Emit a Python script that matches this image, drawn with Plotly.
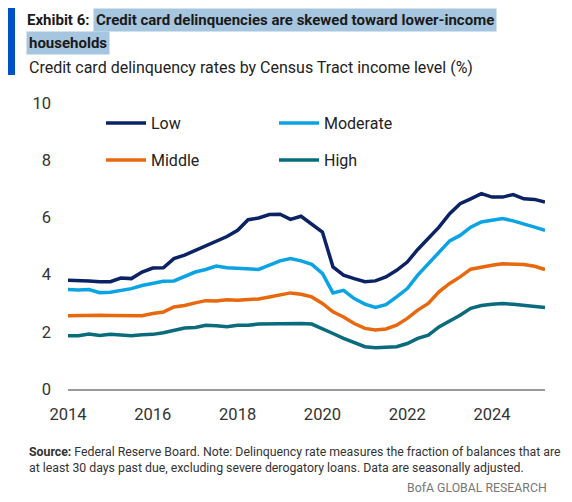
import pandas as pd
import plotly.graph_objects as go

# 季度数据 2014Q1 - 2025Q2
quarters = pd.date_range("2014-01-01", "2025-04-01", freq="QS")

low = [3.80, 3.80, 3.78, 3.75, 3.75, 3.88, 3.86, 4.09, 4.23, 4.24,
       4.56, 4.68, 4.85, 5.02, 5.16, 5.33, 5.55, 5.92, 5.98, 6.10,
       6.11, 5.93, 6.04, 5.78, 5.49, 4.27, 3.98, 3.86, 3.75, 3.78,
       3.92, 4.15, 4.44, 4.88, 5.26, 5.66, 6.13, 6.48, 6.65, 6.83,
       6.71, 6.71, 6.80, 6.65, 6.63, 6.54]
moderate = [3.48, 3.46, 3.48, 3.37, 3.38, 3.43, 3.51, 3.62, 3.71, 3.77,
            3.78, 3.94, 4.09, 4.18, 4.30, 4.24, 4.21, 4.19, 4.18, 4.33,
            4.48, 4.56, 4.48, 4.36, 4.04, 3.36, 3.45, 3.16, 2.97, 2.85,
            2.95, 3.22, 3.51, 3.98, 4.38, 4.79, 5.18, 5.37, 5.66, 5.84,
            5.90, 5.96, 5.88, 5.78, 5.66, 5.55]
middle = [2.56, 2.57, 2.59, 2.58, 2.57, 2.56, 2.54, 2.56, 2.64, 2.69,
          2.87, 2.92, 3.01, 3.09, 3.08, 3.12, 3.10, 3.13, 3.15, 3.22,
          3.30, 3.36, 3.31, 3.22, 2.99, 2.70, 2.52, 2.29, 2.12, 2.06,
          2.10, 2.23, 2.47, 2.76, 2.99, 3.40, 3.69, 3.92, 4.19, 4.27,
          4.33, 4.38, 4.38, 4.35, 4.29, 4.18]
high = [1.86, 1.86, 1.92, 1.87, 1.91, 1.89, 1.86, 1.90, 1.91, 1.97,
        2.05, 2.13, 2.15, 2.23, 2.21, 2.18, 2.23, 2.23, 2.27, 2.28,
        2.29, 2.30, 2.29, 2.27, 2.12, 1.94, 1.77, 1.62, 1.48, 1.44,
        1.45, 1.48, 1.59, 1.77, 1.88, 2.17, 2.38, 2.58, 2.82, 2.92,
        2.96, 2.99, 2.96, 2.93, 2.90, 2.85]

FONT = "Roboto, sans-serif"
OFF = 8  # 页面 body 默认外边距
W, H = 556, 486
L, R, T, B = 60, 19, 95, 105


def px(x):
    # 参考图像素 -> paper 坐标
    return (x - OFF - L) / (W - L - R)


def py(y):
    return (H - B - (y - OFF)) / (H - T - B)


fig = go.Figure()
series = [
    ("Low", low, "#0B2265", "legend"),
    ("Moderate", moderate, "#0AA3E3", "legend"),
    ("Middle", middle, "#E8680E", "legend2"),
    ("High", high, "#0A6B7C", "legend2"),
]
for name, vals, color, lg in series:
    fig.add_trace(go.Scatter(x=quarters, y=vals, name=name, mode="lines",
                             line=dict(color=color, width=3.5), legend=lg))

leg = dict(orientation="h", xanchor="left", yanchor="middle", x=px(101),
           bgcolor="rgba(0,0,0,0)", font=dict(family=FONT, size=16, color="#222"),
           entrywidth=118, entrywidthmode="pixels", itemwidth=40)
fig.update_layout(
    width=W, height=H,
    margin=dict(l=L, r=R, t=T, b=B, autoexpand=False),
    plot_bgcolor="white", paper_bgcolor="white",
    font=dict(family=FONT, size=16, color="#333"),
    legend=dict(leg, y=py(123)),
    legend2=dict(leg, y=py(160)),
    xaxis=dict(type="date", range=[quarters[0], quarters[-1]], showgrid=False,
               tick0="2014-01-01", dtick="M24", tickformat="%Y", ticks="",
               showline=True, linecolor="#9a9a9a", linewidth=1.5,
               tickfont=dict(size=16.5, color="#333"), ticklabelstandoff=9),
    yaxis=dict(range=[0, 10], dtick=2, showgrid=False, zeroline=False,
               showline=False, ticks="", tickfont=dict(size=16.5, color="#333"),
               ticklabelstandoff=16),
)

# 标题左侧蓝条
fig.add_shape(type="rect", xref="paper", yref="paper",
              x0=px(8), x1=px(15), y0=py(75), y1=py(8),
              fillcolor="#0052C4", line_width=0)

hl = "#A6C5DE"
fig.add_annotation(x=px(91), y=py(20), xref="paper", yref="paper",
                   xanchor="right", yanchor="middle", showarrow=False,
                   text="<b>Exhibit 6:</b>", font=dict(size=15, color="#1a1a1a"))
fig.add_annotation(x=px(93), y=py(20), xref="paper", yref="paper",
                   xanchor="left", yanchor="middle", showarrow=False,
                   text="<b>Credit card delinquencies are skewed toward lower-income</b>",
                   bgcolor=hl, borderpad=2, font=dict(size=15, color="#1a1a1a"))
fig.add_annotation(x=px(26), y=py(43), xref="paper", yref="paper",
                   xanchor="left", yanchor="middle", showarrow=False,
                   text="<b>households</b>",
                   bgcolor=hl, borderpad=2, font=dict(size=15, color="#1a1a1a"))
fig.add_annotation(x=px(27), y=py(67), xref="paper", yref="paper",
                   xanchor="left", yanchor="middle", showarrow=False,
                   text="Credit card delinquency rates by Census Tract income level (%)",
                   font=dict(size=16, color="#222"))

fig.add_annotation(x=px(27), y=py(460), xref="paper", yref="paper",
                   xanchor="left", yanchor="middle", showarrow=False, align="left",
                   text="<b>Source:</b> Federal Reserve Board. Note: Delinquency rate measures the fraction of balances that are"
                        "<br>at least 30 days past due, excluding severe derogatory loans. Data are seasonally adjusted.",
                   font=dict(size=12.3, color="#333"))
fig.add_annotation(x=px(549), y=py(488), xref="paper", yref="paper",
                   xanchor="right", yanchor="middle", showarrow=False,
                   text="BofA GLOBAL RESEARCH", font=dict(size=12.3, color="#777"))

fig.write_html("out.html")
